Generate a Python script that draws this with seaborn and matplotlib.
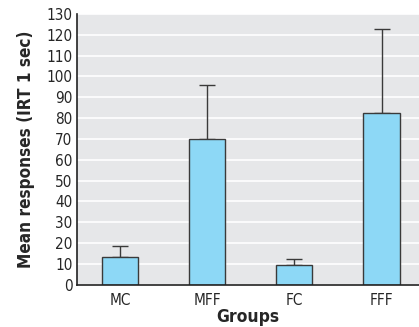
import matplotlib
matplotlib.use("Agg")
import matplotlib.pyplot as plt
import seaborn as sns
import pandas as pd

groups = ["MC", "MFF", "FC", "FFF"]
means = [13.2, 70.1, 9.3, 82.3]
errors = [5.4, 26.0, 3.2, 40.4]
yticks = list(range(0, 131, 10))

sns.set_style("white")
plt.rcParams['font.family'] = ['DejaVu Sans']
plt.rcParams['font.stretch'] = 'condensed'

df = pd.DataFrame({"Groups": groups, "mean": means, "err": errors})

fig = plt.figure(figsize=(4.19, 3.27), dpi=100)
ax = fig.add_axes([76.5/419, (327-284.7)/327, 1 - 76.5/419, (284.7-14)/327])
ax.set_facecolor("#e6e7e9")
ax.set_axisbelow(True)
ax.yaxis.grid(True, color="white", linewidth=1.2)

sns.barplot(data=df, x="Groups", y="mean", ax=ax, color="#8dd8f6",
            edgecolor="#3a3a3a", linewidth=1.0, width=0.415, saturation=1,
            errorbar=None, zorder=2)
ax.errorbar(range(len(groups)), df["mean"], yerr=[[0]*len(groups), df["err"]],
            fmt="none", ecolor="#3a3a3a", elinewidth=1.0, capsize=5.5,
            capthick=1.0, zorder=1)

ax.set_ylim(0, 130)
ax.set_xlim(-0.5, 3.43)
ax.set_yticks(yticks)
ax.set_yticklabels([str(t) for t in yticks], fontsize=11)
ax.tick_params(axis="y", length=0, pad=3)
ax.tick_params(axis="x", length=2, width=0.8, labelsize=11, pad=4, color="#404040")
ax.set_xlabel("Groups", fontsize=12.5, fontweight="bold", labelpad=0)
ax.set_ylabel("Mean responses (IRT 1 sec)", fontsize=12.3, fontweight="bold", labelpad=8)
for s in ["top", "right"]:
    ax.spines[s].set_visible(False)
for s in ["left", "bottom"]:
    ax.spines[s].set_color("#222222")
    ax.spines[s].set_linewidth(1.2)

fig.savefig("out.png", dpi=100)
